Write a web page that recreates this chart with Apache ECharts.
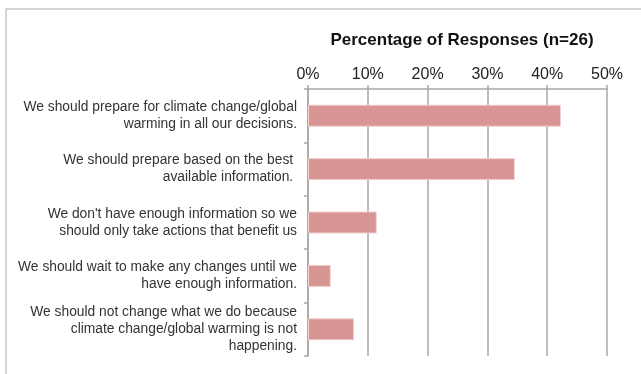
<!DOCTYPE html>
<html>
<head>
<meta charset="utf-8">
<script src="https://cdn.jsdelivr.net/npm/echarts@6/dist/echarts.min.js"></script>
<style>
  html, body { margin: 0; padding: 0; background: #fff; }
  #chart { width: 641px; height: 374px; }
</style>
</head>
<body>
<div id="chart"></div>
<script>
// 回答カテゴリ（上から順）
var categories = [
    "We should prepare for climate change/global\nwarming in all our decisions.",
    "We should prepare based on the best \navailable information. ",
    "We don't have enough information so we\nshould only take actions that benefit us",
    "We should wait to make any changes until we\nhave enough information.",
    "We should not change what we do because\nclimate change/global warming is not\nhappening."
];
// 回答率 (%), n=26
var percents = [42.3, 34.6, 11.5, 3.8, 7.7];
var tickValues = [0, 10, 20, 30, 40, 50];

var chart = echarts.init(document.getElementById("chart"));
chart.setOption({
    animation: false,
    textStyle: { fontFamily: "Liberation Sans, Arial, sans-serif" },
    graphic: [{
        type: "polyline",
        shape: { points: [[6, 374], [6, 9], [641, 9]] },
        style: { stroke: "#c8c8c8", lineWidth: 1.5, fill: null }
    }],
    title: {
        text: "Percentage of Responses (n=26)",
        left: 457,
        textAlign: "center",
        top: 27,
        textStyle: { fontSize: 17, fontWeight: "bold", color: "#111" }
    },
    grid: { left: 308, right: 34, top: 89, bottom: 18 },
    xAxis: {
        type: "value",
        position: "top",
        min: tickValues[0],
        max: tickValues[tickValues.length - 1],
        interval: 10,
        axisLine: { show: true, lineStyle: { color: "#a8a8a8", width: 1.5 } },
        axisTick: { show: true, length: 4, lineStyle: { color: "#a8a8a8", width: 1.5 } },
        splitLine: { show: true, lineStyle: { color: "#a8a8a8", width: 1.5 } },
        axisLabel: {
            formatter: "{value}%",
            fontSize: 16,
            color: "#222",
            margin: 6
        }
    },
    yAxis: {
        type: "category",
        inverse: true,
        data: categories,
        axisLine: { show: true, lineStyle: { color: "#a8a8a8", width: 1.5 } },
        axisTick: { show: true, length: 4, lineStyle: { color: "#a8a8a8", width: 1.5 } },
        axisLabel: {
            fontSize: 13.8,
            color: "#333",
            lineHeight: 17,
            align: "right",
            margin: 11
        }
    },
    series: [{
        type: "bar",
        data: percents,
        barWidth: 22,
        itemStyle: {
            color: "#d99594",
            borderColor: "#f0d0d0",
            borderWidth: 1
        }
    }]
});
</script>
</body>
</html>
